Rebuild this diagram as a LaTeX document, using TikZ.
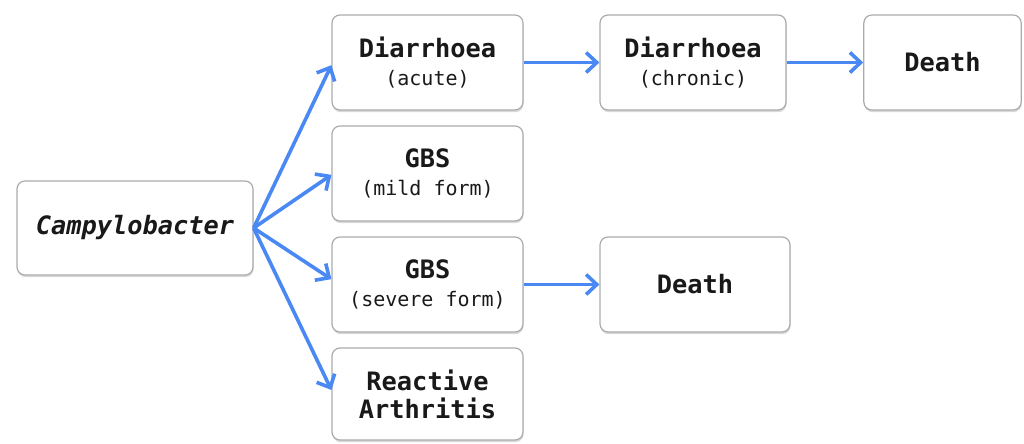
\documentclass[tikz,border=0pt]{standalone}
\usepackage{fontspec}
\setmonofont{DejaVu Sans Mono}
\usetikzlibrary{arrows.meta,shadows}
\definecolor{arrowblue}{RGB}{74,137,243}
\definecolor{boxline}{RGB}{170,172,172}
\definecolor{txt}{RGB}{25,25,25}
\newcommand{\mainlbl}[1]{{\fontsize{19}{21}\selectfont\bfseries #1}}
\newcommand{\sublbl}[1]{{\fontsize{15}{21}\selectfont #1}}
\begin{document}
\begin{tikzpicture}[x=0.75pt,y=-0.75pt,
  box/.style={draw=boxline, line width=0.9pt, rounded corners=6pt, fill=white,
    drop shadow={shadow xshift=0.4pt, shadow yshift=-1.6pt, opacity=0.3},
    align=center, text=txt, font=\ttfamily\fontsize{19}{21}\selectfont, inner sep=2pt,
    minimum width=143.25pt, minimum height=71.25pt},
  conn/.style={draw=arrowblue, line width=2.7pt,
    -{Straight Barb[length=8pt,width=15pt,line width=2.7pt]}}]
\useasboundingbox (0,0) rectangle (1024,443);
\node[box, minimum width=177pt, minimum height=70.5pt] (campy) at (135,228)
  {\mainlbl{\itshape Campylobacter}};
\node[box] (dacute) at (427.5,62.5) {\mainlbl{Diarrhoea}\\\sublbl{(acute)}};
\node[box] (gbsmild) at (427.5,173.5) {\mainlbl{GBS}\\\sublbl{(mild form)}};
\node[box] (gbssev) at (427.5,284.5) {\mainlbl{GBS}\\\sublbl{(severe form)}};
\node[box, minimum height=69pt] (reactive) at (427.5,394) {\mainlbl{Reactive}\\\mainlbl{Arthritis}};
\node[box, minimum width=139.5pt] (dchronic) at (693,62.5) {\mainlbl{Diarrhoea}\\\sublbl{(chronic)}};
\node[box, minimum width=118pt] (death1) at (942.5,62.5) {\mainlbl{Death}};
\node[box, minimum width=142.5pt] (death2) at (695,284.5) {\mainlbl{Death}};
\draw[conn] (campy.east) -- ([yshift=-2pt]dacute.west);
\draw[conn] (campy.east) -- ([yshift=-1pt]gbsmild.west);
\draw[conn] (campy.east) -- ([yshift=4pt]gbssev.west);
\draw[conn] (campy.east) -- ([yshift=3pt]reactive.west);
\draw[conn] (dacute.east) -- (dchronic.west);
\draw[conn] (dchronic.east) -- (death1.west);
\draw[conn] (gbssev.east) -- (death2.west);
\end{tikzpicture}
\end{document}
